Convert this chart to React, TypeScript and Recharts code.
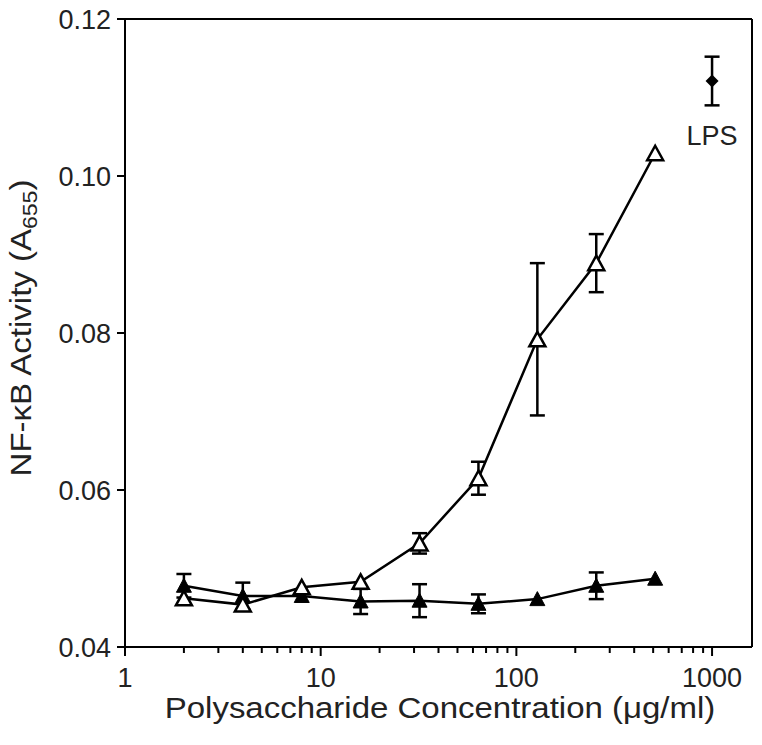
import { ComposedChart, Line, Scatter, XAxis, YAxis, ErrorBar, ReferenceLine, ReferenceDot, Label } from "recharts"

// concentrations (ug/ml)
const doses = [2, 4, 8, 16, 32, 64, 128, 256, 512]
// open triangles
const openMean = [0.0462, 0.0454, 0.0476, 0.0483, 0.0532, 0.0615, 0.0792, 0.0889, 0.1029]
const openErr = [0, 0, 0, 0, 0.0013, 0.0021, 0.0097, 0.0037, 0]
// filled triangles
const filledMean = [0.0478, 0.0465, 0.0465, 0.0458, 0.0459, 0.0455, 0.0461, 0.0478, 0.0487]
const filledErr = [0.0015, 0.0017, 0, 0.0016, 0.0021, 0.0012, 0, 0.0017, 0]
// positive control
const lpsDose = [1000]
const lpsMean = [0.1121]
const lpsErr = [0.0031]

const yTicks = [0.04, 0.06, 0.08, 0.1, 0.12]
const majorTicks = [1, 10, 100, 1000]
const minorTicks = [2, 3, 4, 5, 6, 7, 8, 9, 20, 30, 40, 50, 60, 70, 80, 90, 200, 300, 400, 500, 600, 700, 800, 900]
const xTicks = [...majorTicks, ...minorTicks].sort((a, b) => a - b)

const FONT = "'Liberation Sans', Arial, Helvetica, sans-serif"
const TEXT = "#222"
const SW = 2.5

const toRows = (xs: number[], ys: number[], errs: number[]) => xs.map((x, i) => ({ x, y: ys[i], err: errs[i] }))
const openData = toRows(doses, openMean, openErr)
const filledData = toRows(doses, filledMean, filledErr)
const lpsData = toRows(lpsDose, lpsMean, lpsErr)
const openErrData = openData.filter((d) => d.err > 0)
const filledErrData = filledData.filter((d) => d.err > 0)

function OpenTriangle(props: any) {
  const { cx, cy, index } = props
  if (cx == null || cy == null) return <g key={index} />
  return (
    <polygon
      key={index}
      points={`${cx},${cy - 7.5} ${cx + 8},${cy + 7} ${cx - 8},${cy + 7}`}
      fill="#fff"
      stroke="#000"
      strokeWidth={SW}
    />
  )
}

function FilledTriangle(props: any) {
  const { cx, cy, index } = props
  if (cx == null || cy == null) return <g key={index} />
  return (
    <polygon
      key={index}
      points={`${cx},${cy - 7.5} ${cx + 7.5},${cy + 6.5} ${cx - 7.5},${cy + 6.5}`}
      fill="#000"
      stroke="#000"
      strokeWidth={1}
    />
  )
}

function Diamond(props: any) {
  const { cx, cy } = props
  return <polygon points={`${cx},${cy - 6.5} ${cx + 6.5},${cy} ${cx},${cy + 6.5} ${cx - 6.5},${cy}`} fill="#000" />
}

function XTick(props: any) {
  const { x, y, payload } = props
  const v = payload.value
  const major = majorTicks.includes(v)
  return (
    <g>
      <line x1={x} x2={x} y1={y} y2={y + (major ? 9 : 6)} stroke="#000" strokeWidth={2} />
      {major && (
        <text x={x} y={y + 40} textAnchor="middle" fontSize={27} fill={TEXT} fontFamily={FONT}>
          {v}
        </text>
      )}
    </g>
  )
}

const yTitle = () => (
  <text transform="translate(31,328) rotate(-90) scale(1.1,1)" textAnchor="middle" fontSize={30} fill={TEXT} fontFamily={FONT}>
    NF-κB Activity (A
    <tspan fontSize={21} dy={6}>655</tspan>
    <tspan dy={-6}>)</tspan>
  </text>
)

const xTitle = () => (
  <text transform="translate(440,718) scale(1.1,1)" textAnchor="middle" fontSize={30} fill={TEXT} fontFamily={FONT}>
    Polysaccharide Concentration (μg/ml)
  </text>
)

const Empty = () => <g />

export default function App() {
  return (
    <div style={{ position: "absolute", left: 0, top: 0, background: "#fff" }}>
      <ComposedChart width={762} height={745} margin={{ top: 19, right: 10, bottom: 0, left: 0 }}>
        <XAxis
          dataKey="x"
          type="number"
          scale="log"
          domain={[1, 1600]}
          ticks={xTicks}
          interval={0}
          tick={<XTick />}
          tickLine={false}
          tickSize={0}
          tickMargin={0}
          height={98}
          axisLine={{ stroke: "#000", strokeWidth: 2 }}
        >
          <Label content={xTitle} />
        </XAxis>
        <YAxis
          type="number"
          domain={[0.04, 0.12]}
          ticks={yTicks}
          width={125}
          tickSize={8}
          tickMargin={6}
          tickFormatter={(v: number) => v.toFixed(2)}
          tick={{ fontSize: 27, fill: TEXT, fontFamily: FONT }}
          tickLine={{ stroke: "#000", strokeWidth: 2 }}
          axisLine={{ stroke: "#000", strokeWidth: 2 }}
        >
          <Label content={yTitle} />
        </YAxis>
        <ReferenceLine y={0.12} stroke="#000" strokeWidth={2} />
        <ReferenceLine x={1600} stroke="#000" strokeWidth={2} />

        <Scatter data={filledErrData} dataKey="y" shape={Empty} isAnimationActive={false}>
          <ErrorBar dataKey="err" direction="y" width={7.5} stroke="#000" strokeWidth={SW} />
        </Scatter>
        <Scatter data={openErrData} dataKey="y" shape={Empty} isAnimationActive={false}>
          <ErrorBar dataKey="err" direction="y" width={7.5} stroke="#000" strokeWidth={SW} />
        </Scatter>
        <Scatter data={lpsData} dataKey="y" shape={Empty} isAnimationActive={false}>
          <ErrorBar dataKey="err" direction="y" width={7.5} stroke="#000" strokeWidth={SW} />
        </Scatter>

        <Line data={filledData} dataKey="y" stroke="#000" strokeWidth={SW} dot={FilledTriangle} activeDot={false} isAnimationActive={false} />
        <Line data={openData} dataKey="y" stroke="#000" strokeWidth={SW} dot={OpenTriangle} activeDot={false} isAnimationActive={false} />
        <Scatter data={lpsData} dataKey="y" shape={Diamond} isAnimationActive={false} />

        <ReferenceDot x={lpsDose[0]} y={lpsMean[0]} r={0} stroke="none" fill="none">
          <Label value="LPS" position="bottom" offset={45} fontSize={27} fill={TEXT} fontFamily={FONT} />
        </ReferenceDot>
      </ComposedChart>
    </div>
  )
}
